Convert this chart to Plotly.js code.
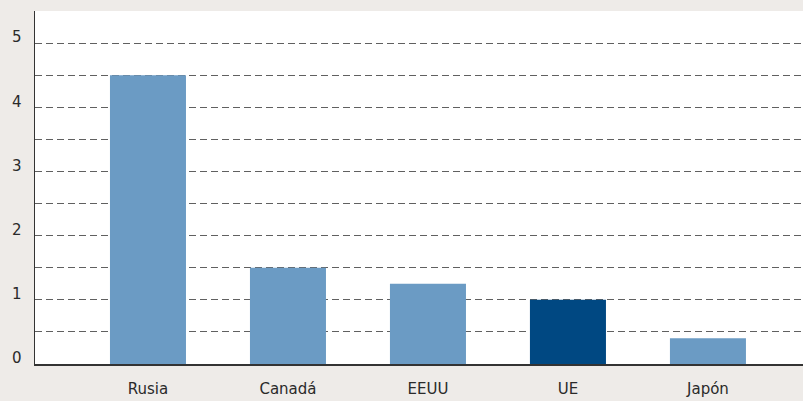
<!DOCTYPE html>
<html>
<head>
<meta charset="utf-8">
<script src="https://cdn.plot.ly/plotly-3.0.1.min.js"></script>
<style>html,body{margin:0;padding:0;background:#eeebe8;}</style>
</head>
<body>
<div id="chart" style="width:803px;height:401px;"></div>
<script>
const categories = ["Rusia", "Canadá", "EEUU", "UE", "Japón"];
const values = [4.5, 1.5, 1.25, 1.0, 0.4];
const barColors = ["#6b9bc4", "#6b9bc4", "#6b9bc4", "#004882", "#6b9bc4"];
const yTicks = [0, 1, 2, 3, 4, 5];

const trace = {
  type: "bar",
  x: categories.map((c, i) => i),
  y: values,
  marker: {color: barColors},
  width: 0.543,
  hoverinfo: "skip"
};

const layout = {
  width: 803, height: 401,
  paper_bgcolor: "#eeebe8",
  plot_bgcolor: "#ffffff",
  margin: {l: 35, r: 0, t: 11, b: 37},
  showlegend: false,
  font: {family: "'DejaVu Sans', sans-serif", size: 15, color: "#2a2a2a"},
  xaxis: {
    range: [-0.807, 4.679],
    tickvals: categories.map((c, i) => i),
    ticktext: categories,
    showgrid: false,
    zeroline: false,
    showline: true, linecolor: "#333", linewidth: 1.5,
    ticks: "",
    ticklabelstandoff: 10,
    tickfont: {size: 15, color: "#2a2a2a"}
  },
  yaxis: {
    range: [0, 5.5],
    tickvals: yTicks,
    ticktext: yTicks.map(String),
    showgrid: true, gridcolor: "#606060", griddash: "7px,4px", gridwidth: 1,
    minor: {dtick: 0.5, tick0: 0, showgrid: true, gridcolor: "#606060", griddash: "7px,4px", gridwidth: 1},
    zeroline: false,
    showline: true, linecolor: "#333", linewidth: 1.5,
    ticks: "",
    ticklabelstandoff: 9,
    ticklabelshift: -6,
    tickfont: {size: 15, color: "#2a2a2a"}
  }
};

Plotly.newPlot("chart", [trace], layout, {displayModeBar: false, staticPlot: true});
</script>
</body>
</html>
